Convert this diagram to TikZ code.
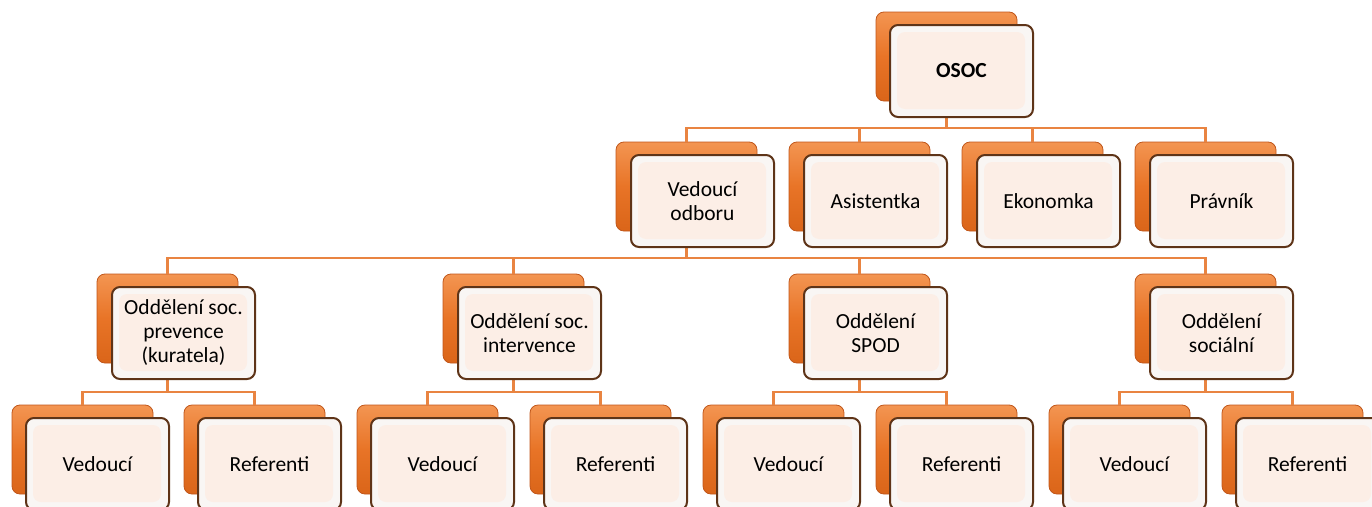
\documentclass[tikz,border=0pt]{standalone}
\usepackage{fontspec}
\setmainfont{Carlito}
\definecolor{orL}{HTML}{F39552}
\definecolor{orM}{HTML}{E87427}
\definecolor{orB}{HTML}{DA6519}
\definecolor{orD}{HTML}{C0561A}
\definecolor{brD}{HTML}{5E3418}
\definecolor{peach}{HTML}{FCEEE6}
\definecolor{bevel}{HTML}{F9F6F4}
\definecolor{lineC}{HTML}{E98441}
\tikzset{
  backbox/.style={draw=orD, line width=0.8pt, rounded corners=8pt,
    top color=orL, bottom color=orB, middle color=orM, minimum width=141pt, minimum height=89pt,
    anchor=north west, inner sep=0pt, outer sep=0pt},
  frontbox/.style={draw=brD, line width=2pt, rounded corners=8pt, fill=bevel,
    minimum width=143pt, minimum height=92pt, anchor=north west, align=center,
    inner sep=0pt, outer sep=0pt, font=\fontsize{21.5}{24}\selectfont,
    path picture={\fill[peach] ([shift={(7pt,-7pt)}]path picture bounding box.north west)
      rectangle ([shift={(-8pt,8pt)}]path picture bounding box.south east);}},
  conn/.style={draw=lineC, line width=2.6pt}
}
\begin{document}
\begin{tikzpicture}[x=1pt,y=-1pt]
\useasboundingbox (0,0) rectangle (1372,506);
% back boxes
\node[backbox] (osocB) at (876,12) {};
\node[backbox] (vodB) at (616,142) {};
\node[backbox] (asiB) at (789,142) {};
\node[backbox] (ekoB) at (962,142) {};
\node[backbox] (praB) at (1135,142) {};
\node[backbox] (o1B) at (97,274) {};
\node[backbox] (o2B) at (443,274) {};
\node[backbox] (o3B) at (789,274) {};
\node[backbox] (o4B) at (1135,274) {};
\node[backbox] (v1B) at (12,405) {};
\node[backbox] (r1B) at (184,405) {};
\node[backbox] (v2B) at (357,405) {};
\node[backbox] (r2B) at (530,405) {};
\node[backbox] (v3B) at (703,405) {};
\node[backbox] (r3B) at (876,405) {};
\node[backbox] (v4B) at (1049,405) {};
\node[backbox] (r4B) at (1222,405) {};
% connectors
\foreach \c in {vodB,asiB,ekoB,praB}
  \draw[conn] (osocB.south) -- ++(0,27) -| (\c.north);
\foreach \c in {o1B,o2B,o3B,o4B}
  \draw[conn] (vodB.south) -- ++(0,27) -| (\c.north);
\foreach \p/\a/\b in {o1B/v1B/r1B,o2B/v2B/r2B,o3B/v3B/r3B,o4B/v4B/r4B}{
  \draw[conn] (\p.south) -- ++(0,29) -| (\a.north);
  \draw[conn] (\p.south) -- ++(0,29) -| (\b.north);
}
% front boxes
\node[frontbox] (osoc) at (890,25) {\bfseries OSOC};
\node[frontbox] (vod) at (631,155) {Vedoucí\\odboru};
\node[frontbox] (asi) at (804,155) {Asistentka};
\node[frontbox] (eko) at (977,155) {Ekonomka};
\node[frontbox] (pra) at (1150,155) {Právník};
\node[frontbox] (o1) at (112,287) {Oddělení soc.\\prevence\\(kuratela)};
\node[frontbox] (o2) at (458,287) {Oddělení soc.\\intervence};
\node[frontbox] (o3) at (804,287) {Oddělení\\SPOD};
\node[frontbox] (o4) at (1150,287) {Oddělení\\sociální};
\node[frontbox] (v1) at (26,418) {Vedoucí};
\node[frontbox] (r1) at (198,418) {Referenti};
\node[frontbox] (v2) at (371,418) {Vedoucí};
\node[frontbox] (r2) at (544,418) {Referenti};
\node[frontbox] (v3) at (717,418) {Vedoucí};
\node[frontbox] (r3) at (890,418) {Referenti};
\node[frontbox] (v4) at (1063,418) {Vedoucí};
\node[frontbox] (r4) at (1236,418) {Referenti};
\end{tikzpicture}
\end{document}
